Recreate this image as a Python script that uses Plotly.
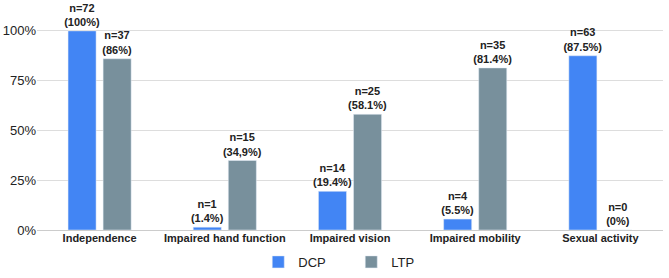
import plotly.graph_objects as go

categories = ["Independence", "Impaired hand function", "Impaired vision", "Impaired mobility", "Sexual activity"]
dcp_values = [1.00, 0.014, 0.194, 0.055, 0.875]
ltp_values = [0.86, 0.349, 0.581, 0.814, 0.0]
dcp_labels = ["n=72<br>(100%)", "n=1<br>(1.4%)", "n=14<br>(19.4%)", "n=4<br>(5.5%)", "n=63<br>(87.5%)"]
ltp_labels = ["n=37<br>(86%)", "n=15<br>(34,9%)", "n=25<br>(58.1%)", "n=35<br>(81.4%)", "n=0<br>(0%)"]
tick_vals = [0, 0.25, 0.5, 0.75, 1.0]
tick_text = ["0%", "25%", "50%", "75%", "100%"]

FONT = "Liberation Sans, Arial, sans-serif"
label_font = dict(family=FONT, size=11, color="#222222", weight="bold")

fig = go.Figure()
fig.add_trace(go.Bar(name="DCP", x=categories, y=dcp_values, marker_color="#4285F4",
                     text=dcp_labels, textposition="outside", textfont=label_font,
                     constraintext="none", cliponaxis=False))
fig.add_trace(go.Bar(name="LTP", x=categories, y=ltp_values, marker_color="#78909C",
                     text=ltp_labels, textposition="outside", textfont=label_font,
                     constraintext="none", cliponaxis=False))

fig.update_layout(
    width=669, height=278,
    margin=dict(l=36.5, r=5.5, t=5, b=48, autoexpand=False),
    barmode="group", bargap=0.44, bargroupgap=0.2,
    plot_bgcolor="white", paper_bgcolor="white",
    font=dict(family=FONT, color="#222222"),
    legend=dict(orientation="h", x=0.502, xanchor="center", y=-0.142, yanchor="middle",
                font=dict(family=FONT, size=13, color="#222222"),
                itemwidth=30, entrywidth=48, entrywidthmode="pixels", traceorder="normal"),
    showlegend=True,
)
fig.update_xaxes(showgrid=False, showline=False, ticks="",
                 tickfont=dict(family=FONT, size=11, color="#222222", weight="bold"))
fig.update_yaxes(range=[0, 1.13], tickvals=tick_vals, ticktext=tick_text,
                 showgrid=True, gridcolor="#dddddd", gridwidth=1.2, zeroline=True,
                 zerolinecolor="#cccccc", zerolinewidth=1.2, showline=False, ticks="",
                 tickfont=dict(family=FONT, size=13, color="#222222"))

fig.write_html("out.html", config={"displayModeBar": False},
               post_script="document.body.style.margin='0';")
